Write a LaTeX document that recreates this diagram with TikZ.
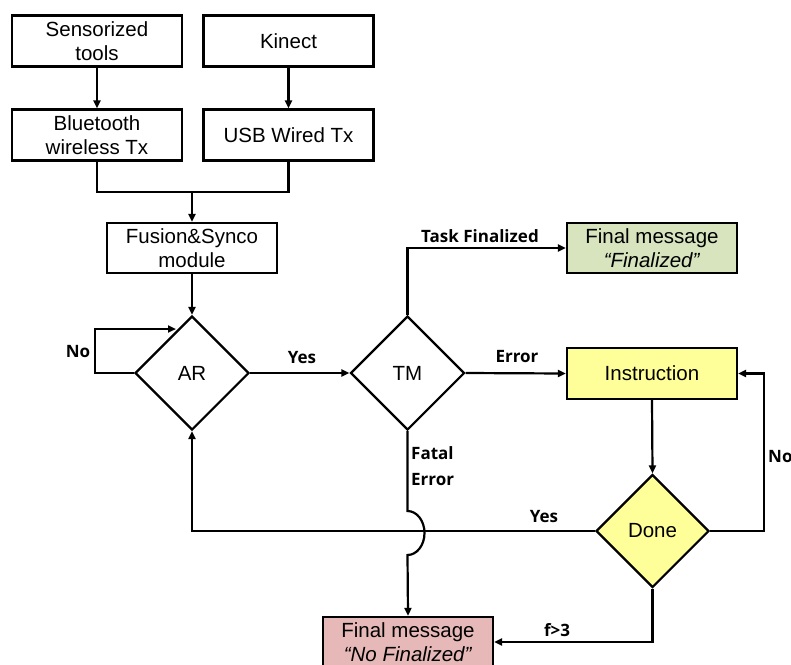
\documentclass[tikz,border=0pt]{standalone}
\usepackage{fontspec}
\setmainfont{Liberation Sans}
\newfontfamily\lblfont{Open Sans}
\usetikzlibrary{shapes.geometric,arrows.meta}
\definecolor{boxgreen}{HTML}{D7E4BD}
\definecolor{boxyellow}{HTML}{FFFF99}
\definecolor{boxpink}{HTML}{E6B9B8}
\tikzset{
  box/.style={draw,line width=2.2pt,minimum width=170pt,minimum height=51pt,inner sep=0pt,align=center,font=\fontsize{20.5}{24.5}\selectfont},
  dia/.style={draw,diamond,aspect=1,line width=2.2pt,minimum width=114pt,minimum height=114pt,inner sep=0pt,font=\fontsize{20.5}{24.5}\selectfont},
  conn/.style={line width=2.2pt},
  arr/.style={conn,-{Triangle[length=8pt,width=7pt]}},
  lbl/.style={font=\lblfont\bfseries\fontsize{17}{26}\selectfont,inner sep=0pt,align=left}
}
\begin{document}
\begin{tikzpicture}[x=1pt,y=-1pt]
\useasboundingbox (0,0) rectangle (791,664);
\clip (0,0) rectangle (791,664);
\node[box] (sens) at (97,41) {Sensorized\\tools};
\node[box] (kin) at (288.5,41) {Kinect};
\node[box] (bt) at (97,135) {Bluetooth\\wireless Tx};
\node[box] (usb) at (288.5,135) {USB Wired Tx};
\node[box,minimum height=50pt] (fus) at (192,248) {Fusion\&Synco\\module};
\node[dia] (ar) at (192,373) {AR};
\node[dia] (tm) at (407.5,373) {TM};
\node[box,fill=boxgreen,minimum height=50pt] (fin) at (652,248) {Final message\\\textit{“Finalized”}};
\node[box,fill=boxyellow] (ins) at (652,373.5) {Instruction};
\node[dia,fill=boxyellow,minimum width=113pt,minimum height=113pt] (done) at (652.5,531) {Done};
\node[box,fill=boxpink,minimum height=50pt] (nofin) at (408,642) {Final message\\\textit{“No Finalized”}};
\coordinate (merge) at (192,192);
\coordinate (noleft) at (95,373);
\coordinate (notip) at (176,329);
\coordinate (hoptop) at (407.5,511);
\coordinate (noright) at (764,531);

\draw[arr] (sens) -- (bt);
\draw[arr] (kin) -- (usb);
\draw[conn] (bt.south) |- (merge) -| (usb.south);
\draw[arr] (merge) -- (fus.north);
\draw[arr] (fus) -- (ar.north);
\draw[arr] (ar.west) -- (noleft) |- (notip);
\draw[arr] (ar.east) -- (tm.west);
\draw[arr] (tm.north) |- (fin.west);
\draw[arr] (tm.east) -- (ins.west);
\draw[arr] (ins.south) -- (done.north);
\draw[arr] (done.east) -- (noright) |- (ins.east);
\draw[arr] (done.west) -| (ar.south);
\draw[arr] (tm.south) -- (hoptop) arc[start angle=-90,end angle=90,x radius=17,y radius=22] -- (nofin.north);
\draw[arr] (done.south) |- (nofin.east);

\node[lbl] at (480,236) {Task Finalized};
\node[lbl] at (78,352) {No};
\node[lbl] at (302,358) {Yes};
\node[lbl] at (517,357) {Error};
\node[lbl,anchor=north west] at (411,446) {Fatal\\Error};
\node[lbl] at (544,517) {Yes};
\node[lbl,anchor=west] at (768,457) {No};
\node[lbl] at (557,630) {f>3};
\end{tikzpicture}
\end{document}
